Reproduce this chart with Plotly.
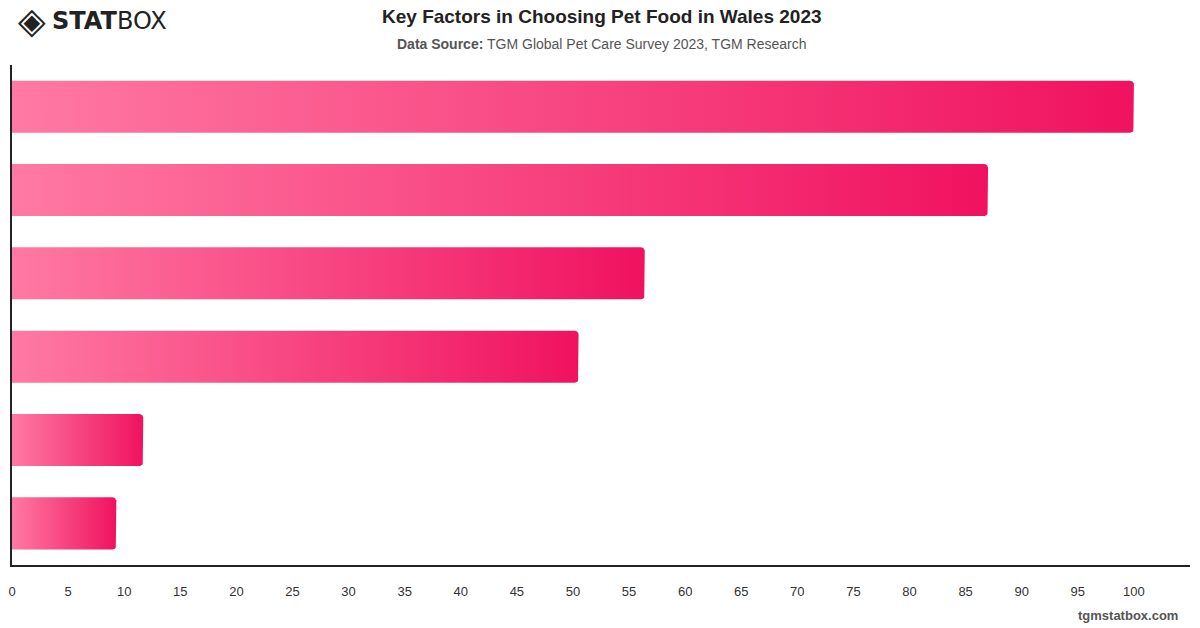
import plotly.graph_objects as go
import math

# ---- data ----
categories = ["Nutritional value", "Price", "Brand reputation", "Vet recommendation", "Eco-friendly packaging", "Other"]
values = [100, 87, 56.4, 50.5, 11.7, 9.3]
tick_vals = list(range(0, 101, 5))
tick_text = [str(v) for v in tick_vals]

# ---- styling ----
W, H = 1200, 628
M_L, M_R, M_T, M_B = 8, 10, 65, 63
X_MAX = 105
BAR_FRAC = 0.625
C_LEFT, C_RIGHT = "#ff79a4", "#f0125f"

px_per_x = (W - M_L - M_R) / X_MAX
px_per_y = (H - M_T - M_B) / len(categories)
rad_px = 4
rx = rad_px / px_per_x
ry = rad_px / px_per_y

fig = go.Figure()
for i, (cat, v) in enumerate(zip(categories, values)):
    h = BAR_FRAC / 2
    y0, y1 = i - h, i + h
    xs = [0, 0]
    ys = [y1, y0]
    n = 6
    for k in range(n + 1):
        a = math.pi / 2 * k / n
        xs.append(v - rx + rx * math.sin(a))
        ys.append(y0 + ry - ry * math.cos(a))
    for k in range(n + 1):
        a = math.pi / 2 * k / n
        xs.append(v - rx + rx * math.cos(a))
        ys.append(y1 - ry + ry * math.sin(a))
    xs.append(0)
    ys.append(y1)
    fig.add_trace(go.Scatter(
        x=xs, y=ys, mode="lines", fill="toself",
        line=dict(width=0, color=C_RIGHT),
        fillgradient=dict(type="horizontal", colorscale=[[0, C_LEFT], [1, C_RIGHT]]),
        name=cat, hoverinfo="skip", showlegend=False,
    ))

SANS = "Liberation Sans, Arial, sans-serif"
fig.update_layout(
    width=W, height=H,
    margin=dict(l=M_L, r=M_R, t=M_T, b=M_B),
    paper_bgcolor="white", plot_bgcolor="white",
    font=dict(family=SANS, color="#333"),
    xaxis=dict(range=[0, X_MAX], tickvals=tick_vals, ticktext=tick_text,
               showgrid=False, zeroline=False, showline=True, linecolor="#222",
               linewidth=1.5, ticks="", ticklabelstandoff=14,
               tickfont=dict(size=13, color="#333", family=SANS), fixedrange=True),
    yaxis=dict(range=[len(categories) - 0.5, -0.5], showticklabels=False,
               showgrid=False, zeroline=False, showline=True, linecolor="#222",
               linewidth=1.5, ticks="", fixedrange=True),
    annotations=[
        dict(text="<b>Key Factors in Choosing Pet Food in Wales 2023</b>",
             x=600, y=17, showarrow=False,
             font=dict(size=19, color="#222", family=SANS),
             xanchor="center", yanchor="middle"),
        dict(text="<b>Data Source:</b> TGM Global Pet Care Survey 2023, TGM Research",
             x=600, y=44, showarrow=False,
             font=dict(size=14, color="#555", family=SANS),
             xanchor="center", yanchor="middle"),
        dict(text="◈",
             x=12, y=21, showarrow=False,
             font=dict(size=36, color="#222", family="DejaVu Sans, sans-serif"),
             xanchor="left", yanchor="middle"),
        dict(text="<b>STAT</b>BOX",
             x=46, y=21, showarrow=False,
             font=dict(size=24, color="#222", family="DejaVu Sans, sans-serif"),
             xanchor="left", yanchor="middle"),
        dict(text="<b>tgmstatbox.com</b>",
             x=1180, y=615, showarrow=False,
             font=dict(size=13, color="#555", family=SANS),
             xanchor="right", yanchor="middle"),
    ],
)

# convert pixel positions of annotations to paper coords
pw = W - M_L - M_R
ph = H - M_T - M_B
for ann in fig.layout.annotations:
    ann.xref = "paper"
    ann.yref = "paper"
    ann.x = (ann.x - M_L) / pw
    ann.y = 1 - (ann.y - M_T) / ph

fig.write_html("out.html")
